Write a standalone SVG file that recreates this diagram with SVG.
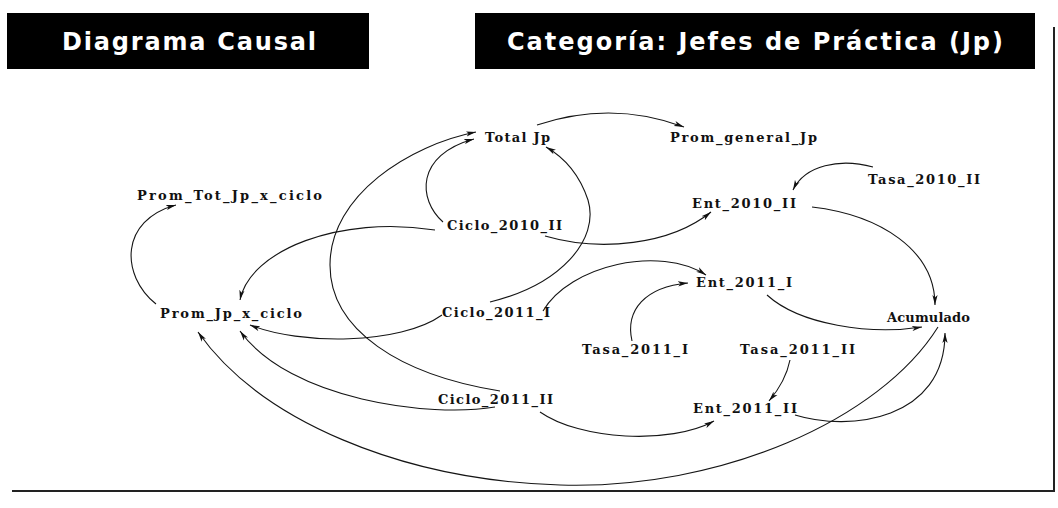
<svg xmlns="http://www.w3.org/2000/svg" width="1058" height="508" viewBox="0 0 1058 508">
  <style>
    .hdr { fill: #000; }
    .hdr-t { fill: #fff; font-family: "DejaVu Sans", "Liberation Sans", Arial, sans-serif; font-weight: bold; font-size: 24px; }
    .lbl { fill: #111; font-family: "DejaVu Serif", "Liberation Serif", serif; font-weight: bold; font-size: 13px; }
    .lnk { fill: none; stroke: #151515; stroke-width: 1.1; marker-end: url(#ah); }
    .frame { fill: none; stroke: #222; stroke-width: 2; }
  </style>
  <defs>
    <marker id="ah" viewBox="0 0 10 6" refX="10" refY="3" markerWidth="10" markerHeight="6" markerUnits="userSpaceOnUse" orient="auto">
      <path d="M0,0.4 L10,3 L0,5.6 L2.5,3 z" fill="#111"/>
    </marker>
  </defs>

  <rect width="1058" height="508" fill="#fff"/>

  <!-- title bars -->
  <g id="title-left">
    <rect class="hdr" x="7" y="13" width="362" height="56"/>
    <text class="hdr-t" x="62" y="50" textLength="254" lengthAdjust="spacing">Diagrama Causal</text>
  </g>
  <g id="title-right">
    <rect class="hdr" x="475" y="13" width="560" height="56"/>
    <text class="hdr-t" x="507" y="50" textLength="496" lengthAdjust="spacing">Categoría: Jefes de Práctica (Jp)</text>
  </g>

  <!-- frame edges -->
  <path class="frame" d="M1054,27 L1054,491 L12,491"/>

  <!-- causal links -->
  <g id="links">
    <path class="lnk" d="M537,125 Q612,100 684,127"/>
    <path class="lnk" d="M443,222 C418,200 415,155 474,139"/>
    <path class="lnk" d="M500,391 C400,375 330,330 330,265 C330,195 410,145 476,132"/>
    <path class="lnk" d="M490,302 C560,285 600,240 588,200 C578,170 560,155 546,147"/>
    <path class="lnk" d="M543,311 C570,265 660,245 706,275"/>
    <path class="lnk" d="M545,236 C600,252 670,245 711,212"/>
    <path class="lnk" d="M435,230 C340,215 250,250 240,300"/>
    <path class="lnk" d="M442,315 C400,345 300,345 250,325"/>
    <path class="lnk" d="M495,407 C430,418 290,400 240,331"/>
    <path class="lnk" d="M938,327 C880,420 720,490 560,485 C400,480 260,420 198,332"/>
    <path class="lnk" d="M540,412 C580,440 670,445 714,421"/>
    <path class="lnk" d="M812,207 C880,215 935,250 935,305"/>
    <path class="lnk" d="M873,167 C840,158 805,165 793,190"/>
    <path class="lnk" d="M767,295 C800,325 870,335 922,327"/>
    <path class="lnk" d="M632,341 C625,310 645,287 688,283"/>
    <path class="lnk" d="M790,360 C787,375 780,388 769,401"/>
    <path class="lnk" d="M795,415 C850,432 945,420 945,333"/>
    <path class="lnk" d="M156,304 C120,275 120,220 176,205"/>
  </g>

  <!-- variables -->
  <g id="total-jp"><text class="lbl" x="485" y="142" textLength="65" lengthAdjust="spacing">Total Jp</text></g>
  <g id="prom-general-jp"><text class="lbl" x="670" y="142" textLength="147" lengthAdjust="spacing">Prom_general_Jp</text></g>
  <g id="tasa-2010-ii"><text class="lbl" x="868" y="184" textLength="112" lengthAdjust="spacing">Tasa_2010_II</text></g>
  <g id="ent-2010-ii"><text class="lbl" x="692" y="208" textLength="104" lengthAdjust="spacing">Ent_2010_II</text></g>
  <g id="prom-tot-jp-x-ciclo"><text class="lbl" x="137" y="200" textLength="185" lengthAdjust="spacing">Prom_Tot_Jp_x_ciclo</text></g>
  <g id="ciclo-2010-ii"><text class="lbl" x="447" y="230" textLength="115" lengthAdjust="spacing">Ciclo_2010_II</text></g>
  <g id="ent-2011-i"><text class="lbl" x="696" y="287" textLength="96" lengthAdjust="spacing">Ent_2011_I</text></g>
  <g id="prom-jp-x-ciclo"><text class="lbl" x="160" y="318" textLength="142" lengthAdjust="spacing">Prom_Jp_x_ciclo</text></g>
  <g id="ciclo-2011-i"><text class="lbl" x="442" y="317" textLength="108" lengthAdjust="spacing">Ciclo_2011_I</text></g>
  <g id="acumulado"><text class="lbl" x="887" y="322" textLength="83" lengthAdjust="spacing">Acumulado</text></g>
  <g id="tasa-2011-i"><text class="lbl" x="582" y="354" textLength="106" lengthAdjust="spacing">Tasa_2011_I</text></g>
  <g id="tasa-2011-ii"><text class="lbl" x="740" y="354" textLength="115" lengthAdjust="spacing">Tasa_2011_II</text></g>
  <g id="ciclo-2011-ii"><text class="lbl" x="438" y="404" textLength="115" lengthAdjust="spacing">Ciclo_2011_II</text></g>
  <g id="ent-2011-ii"><text class="lbl" x="693" y="413" textLength="104" lengthAdjust="spacing">Ent_2011_II</text></g>
</svg>
